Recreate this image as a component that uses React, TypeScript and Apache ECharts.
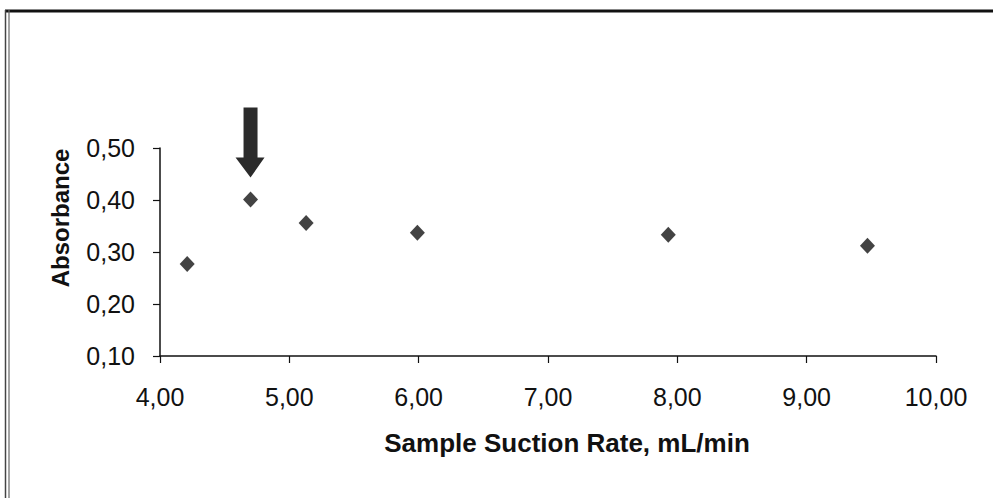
import React, { useEffect, useRef } from "react";
import * as echarts from "echarts";

const suctionRate = [4.21, 4.7, 5.13, 5.99, 7.93, 9.47];
const absorbance = [0.277, 0.401, 0.356, 0.337, 0.333, 0.312];
const highlighted = [[4.7, 0.401]];
const xTitle = "Sample Suction Rate, mL/min";
const yTitle = "Absorbance";

const FONT = "'Liberation Sans', Arial, sans-serif";
const fmt = (v: number) => v.toFixed(2).replace(".", ",");

export default function App() {
  const ref = useRef<HTMLDivElement>(null);
  useEffect(() => {
    if (!ref.current) return;
    const chart = echarts.init(ref.current, null, { renderer: "svg" });
    chart.setOption({
      animation: false,
      backgroundColor: "#ffffff",
      grid: { left: 160, right: 57, top: 148, bottom: 142, containLabel: false },
      xAxis: {
        type: "value",
        min: 4,
        max: 10,
        interval: 1,
        axisLine: { show: true, lineStyle: { color: "#111", width: 1.5 } },
        axisTick: { show: true, length: 7, lineStyle: { color: "#111", width: 1.2 } },
        splitLine: { show: false },
        axisLabel: { formatter: fmt, fontFamily: FONT, fontSize: 25, color: "#111", margin: 28 },
      },
      yAxis: {
        type: "value",
        min: 0.1,
        max: 0.5,
        interval: 0.1,
        axisLine: { show: true, lineStyle: { color: "#111", width: 1.5 } },
        axisTick: { show: true, length: 7, lineStyle: { color: "#111", width: 1.2 } },
        splitLine: { show: false },
        axisLabel: { formatter: fmt, fontFamily: FONT, fontSize: 25, color: "#111", margin: 25 },
      },
      series: [
        {
          type: "scatter",
          data: suctionRate.map((x, i) => [x, absorbance[i]]),
          symbol: "diamond",
          symbolSize: [15, 16],
          itemStyle: { color: "#141414" },
        },
        {
          type: "custom",
          data: highlighted,
          renderItem: (params: any, api: any) => {
            const p = api.coord([api.value(0), api.value(1)]);
            const cx = p[0];
            const cy = p[1];
            return {
              type: "polygon",
              shape: {
                points: [
                  [cx, cy - 22],
                  [cx - 15, cy - 42],
                  [cx - 7, cy - 42],
                  [cx - 7, cy - 92],
                  [cx + 7, cy - 92],
                  [cx + 7, cy - 42],
                  [cx + 14, cy - 42],
                ],
              },
              style: { fill: "#2b2b2b" },
            };
          },
        },
      ],
      graphic: [
        { type: "line", shape: { x1: 5, y1: 11, x2: 993, y2: 11 }, style: { stroke: "#111", lineWidth: 3 } },
        { type: "line", shape: { x1: 5.5, y1: 10, x2: 5.5, y2: 498 }, style: { stroke: "#444", lineWidth: 1.5 } },
        { type: "line", shape: { x1: 9, y1: 10, x2: 9, y2: 498 }, style: { stroke: "#666", lineWidth: 1.2 } },
        {
          type: "text",
          x: 567,
          y: 443,
          style: {
            text: xTitle,
            font: `bold 26px ${FONT}`,
            fill: "#111",
            textAlign: "center",
            textVerticalAlign: "middle",
          },
        },
        {
          type: "text",
          x: 60,
          y: 218,
          rotation: Math.PI / 2,
          style: {
            text: yTitle,
            font: `bold 24px ${FONT}`,
            fill: "#111",
            textAlign: "center",
            textVerticalAlign: "middle",
          },
        },
      ],
    });
    return () => chart.dispose();
  }, []);
  return (
    <div
      ref={ref}
      style={{ position: "fixed", left: 0, top: 0, width: 993, height: 498, background: "#fff" }}
    />
  );
}
